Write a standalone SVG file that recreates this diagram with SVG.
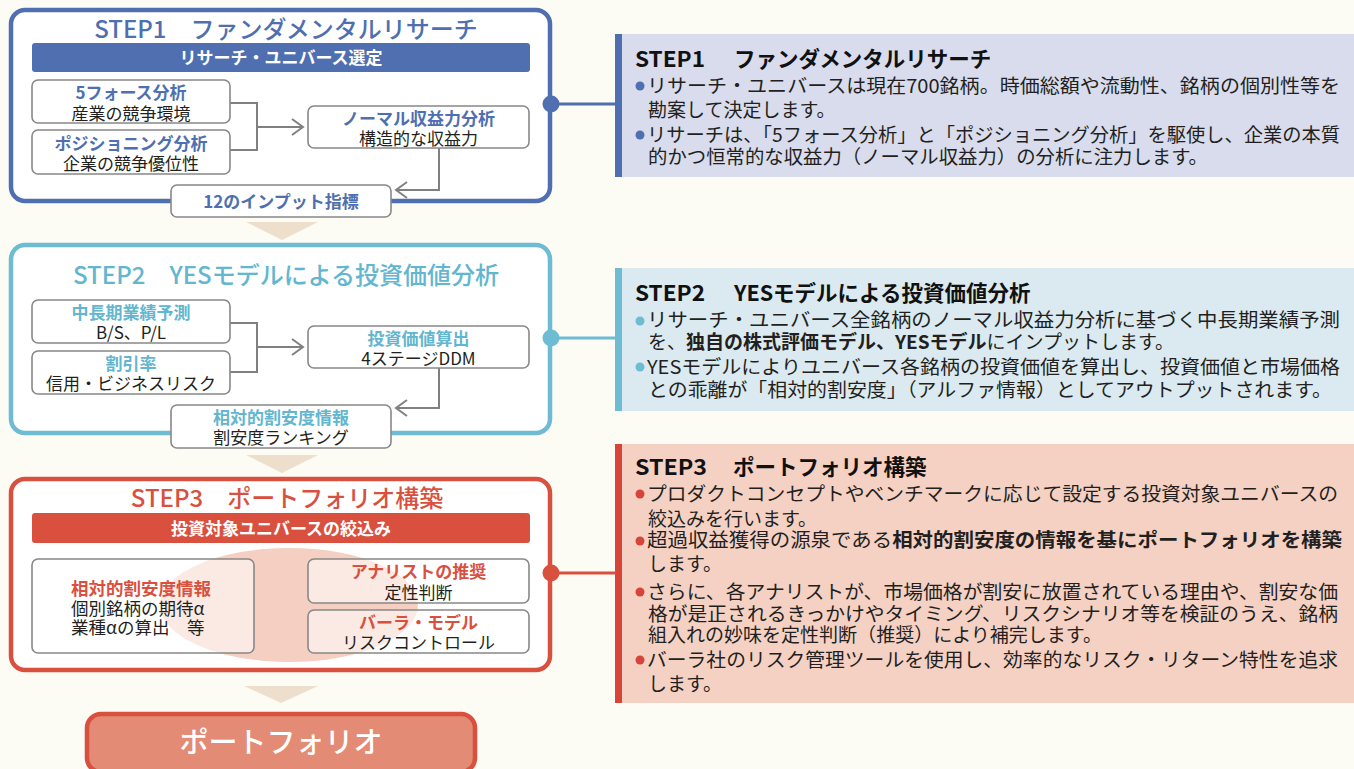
<svg xmlns="http://www.w3.org/2000/svg" width="1354" height="769" viewBox="0 0 1354 769">
<defs>
<style>
text{font-family:"Noto Sans CJK JP","Noto Sans",sans-serif;}
.stepbox{fill:#fff;stroke-width:4.5}
.s1{stroke:#4f6fb0}.s2{stroke:#6dbcd3}.s3{stroke:#d9503f}
.ttl{font-size:24px;font-weight:500;text-anchor:middle}
.c1{fill:#4f6fb0}.c2{fill:#62b6cf}.c3{fill:#d9503f}
.bt{font-size:17px;font-weight:700;fill:#fff;text-anchor:middle}
.ib{fill:#fff;stroke:#888;stroke-width:1.6}
.ibt{fill:#fff;fill-opacity:0.55;stroke:#888;stroke-width:1.6}
.nt{font-size:17px;text-anchor:middle}
.ntl{font-size:17.5px}
.h{font-weight:700}
.b{fill:#231f20}
.conn{fill:none;stroke:#808080;stroke-width:2}
.tri{fill:#eedfcc}
.pt{font-weight:700;fill:#111;font-size:21.5px}
.pb{font-size:19px;fill:#231f20}
.bold{font-weight:700}
</style>
<marker id="chev" markerUnits="userSpaceOnUse" markerWidth="16" markerHeight="20" refX="12" refY="9" orient="auto" viewBox="0 0 16 20"><path d="M1,1 L12,9 L1,17" fill="none" stroke="#808080" stroke-width="2"/></marker>
</defs>
<rect x="0" y="0" width="1354" height="769" fill="#fcfbf4"/>

<!-- right panels -->
<g id="panel1">
<rect x="615" y="34" width="739" height="143" fill="#d8dcec"/>
<rect x="615" y="34" width="7" height="143" fill="#4f6fb0"/>
<circle cx="640" cy="86" r="4.5" fill="#4f6fb0"/>
<circle cx="640" cy="135" r="4.5" fill="#4f6fb0"/>
<text class="pb"><tspan class="pt" x="635" y="66.5" textLength="70" lengthAdjust="spacingAndGlyphs">STEP1</tspan><tspan class="pt" x="734" y="66.5">ファンダメンタルリサーチ</tspan><tspan x="647" y="92.5" textLength="693" lengthAdjust="spacingAndGlyphs">リサーチ・ユニバースは現在700銘柄。時価総額や流動性、銘柄の個別性等を</tspan><tspan x="648" y="116.5">勘案して決定します。</tspan><tspan x="647" y="141.5" textLength="693" lengthAdjust="spacingAndGlyphs">リサーチは、「5フォース分析」と「ポジショニング分析」を駆使し、企業の本質</tspan><tspan x="648" y="164" textLength="560" lengthAdjust="spacingAndGlyphs">的かつ恒常的な収益力（ノーマル収益力）の分析に注力します。</tspan></text>
</g>

<g id="panel2">
<rect x="615" y="268" width="739" height="143" fill="#dbeaf0"/>
<rect x="615" y="268" width="7" height="143" fill="#6dbcd3"/>
<circle cx="640" cy="321" r="4.5" fill="#6dbcd3"/>
<circle cx="640" cy="367" r="4.5" fill="#6dbcd3"/>
<text class="pb"><tspan class="pt" x="635" y="301" textLength="70" lengthAdjust="spacingAndGlyphs">STEP2</tspan><tspan class="pt" x="734" y="301">YESモデルによる投資価値分析</tspan><tspan x="647" y="327" textLength="693" lengthAdjust="spacingAndGlyphs">リサーチ・ユニバース全銘柄のノーマル収益力分析に基づく中長期業績予測</tspan><tspan x="648" y="349">を、<tspan class="bold">独自の株式評価モデル、YESモデル</tspan>にインプットします。</tspan><tspan x="647" y="374" textLength="693" lengthAdjust="spacingAndGlyphs">YESモデルによりユニバース各銘柄の投資価値を算出し、投資価値と市場価格</tspan><tspan x="648" y="396.5" textLength="684" lengthAdjust="spacingAndGlyphs">との乖離が「相対的割安度」（アルファ情報）としてアウトプットされます。</tspan></text>
</g>

<g id="panel3">
<rect x="615" y="444" width="739" height="259" fill="#f5d1c4"/>
<rect x="615" y="444" width="7" height="259" fill="#d6443a"/>
<circle cx="640" cy="494" r="4.5" fill="#d6443a"/>
<circle cx="640" cy="541" r="4.5" fill="#d6443a"/>
<circle cx="640" cy="592" r="4.5" fill="#d6443a"/>
<circle cx="640" cy="660" r="4.5" fill="#d6443a"/>
<text class="pb"><tspan class="pt" x="635" y="475" textLength="72" lengthAdjust="spacingAndGlyphs">STEP3</tspan><tspan class="pt" x="733" y="475">ポートフォリオ構築</tspan><tspan x="647" y="500.5" textLength="691" lengthAdjust="spacingAndGlyphs">プロダクトコンセプトやベンチマークに応じて設定する投資対象ユニバースの</tspan><tspan x="648" y="525.5">絞込みを行います。</tspan><tspan x="647" y="547" textLength="695" lengthAdjust="spacingAndGlyphs">超過収益獲得の源泉である<tspan class="bold">相対的割安度の情報を基にポートフォリオを構築</tspan></tspan><tspan x="648" y="570.5">します。</tspan><tspan x="647" y="599" textLength="691" lengthAdjust="spacingAndGlyphs">さらに、各アナリストが、市場価格が割安に放置されている理由や、割安な価</tspan><tspan x="648" y="620.5" textLength="690" lengthAdjust="spacingAndGlyphs">格が是正されるきっかけやタイミング、リスクシナリオ等を検証のうえ、銘柄</tspan><tspan x="648" y="642" textLength="454" lengthAdjust="spacingAndGlyphs">組入れの妙味を定性判断（推奨）により補完します。</tspan><tspan x="647" y="667" textLength="691" lengthAdjust="spacingAndGlyphs">バーラ社のリスク管理ツールを使用し、効率的なリスク・リターン特性を追求</tspan><tspan x="648" y="690.5">します。</tspan></text>
</g>

<!-- STEP frames -->
<g id="step1">
<rect class="stepbox s1" x="11" y="10" width="539" height="191" rx="14"/>
<text class="ttl c1" x="286" y="37.5">STEP1　ファンダメンタルリサーチ</text>
<rect x="32" y="43" width="498" height="29" rx="3" fill="#4f6fb0"/>
<text class="bt" x="281" y="64">リサーチ・ユニバース選定</text>
</g>
<g id="step2">
<rect class="stepbox s2" x="11" y="245" width="539" height="188" rx="14"/>
<text class="ttl c2" x="286" y="284">STEP2　YESモデルによる投資価値分析</text>
</g>
<g id="step3">
<rect class="stepbox s3" x="11" y="479" width="539" height="191" rx="14"/>
<text class="ttl c3" x="287" y="507">STEP3　ポートフォリオ構築</text>
<rect x="32" y="513" width="498" height="30" rx="3" fill="#d9503f"/>
<text class="bt" x="281" y="534.5">投資対象ユニバースの絞込み</text>
<ellipse cx="289" cy="605" rx="129" ry="57" fill="#f5d0c2"/>
</g>

<!-- connectors -->
<g id="connectors">
<path class="conn" d="M230,103 H257 V150 H230"/>
<path class="conn" d="M257,127 H303" marker-end="url(#chev)"/>
<path class="conn" d="M439,148 V190 H396" marker-end="url(#chev)"/>
<path class="conn" d="M230,323 H257 V372 H230"/>
<path class="conn" d="M257,347 H303" marker-end="url(#chev)"/>
<path class="conn" d="M439,368 V408 H396" marker-end="url(#chev)"/>
<path d="M551,104 H616" stroke="#4f6fb0" stroke-width="3"/>
<path d="M551,338 H616" stroke="#6dbcd3" stroke-width="3"/>
<path d="M551,573 H616" stroke="#d9503f" stroke-width="3"/>
<circle cx="551" cy="104" r="8.5" fill="#4f6fb0"/>
<circle cx="551" cy="338" r="8.5" fill="#6dbcd3"/>
<circle cx="551" cy="573" r="8.5" fill="#d9503f"/>
<polygon class="tri" points="246,222 318,222 282,240"/>
<polygon class="tri" points="246,455 318,455 282,473"/>
<polygon class="tri" points="244,686 318,686 281,703"/>
</g>

<!-- STEP1 nodes -->
<g id="n-5force">
<rect class="ib" x="32" y="80" width="198" height="43" rx="6"/>
<text class="nt"><tspan class="h c1" x="131" y="98.5">5フォース分析</tspan><tspan class="b" x="131" y="119.5">産業の競争環境</tspan></text>
</g>
<g id="n-positioning">
<rect class="ib" x="32" y="130" width="198" height="44" rx="6"/>
<text class="nt"><tspan class="h c1" x="131" y="149.5">ポジショニング分析</tspan><tspan class="b" x="131" y="169.5">企業の競争優位性</tspan></text>
</g>
<g id="n-normal">
<rect class="ib" x="308" y="106" width="221" height="42" rx="6"/>
<text class="nt"><tspan class="h c1" x="418.5" y="124.5">ノーマル収益力分析</tspan><tspan class="b" x="418.5" y="144.5">構造的な収益力</tspan></text>
</g>
<g id="n-input12">
<rect class="ib" x="171" y="185" width="220" height="32" rx="6"/>
<text class="nt h c1" x="281" y="207.5">12のインプット指標</text>
</g>

<!-- STEP2 nodes -->
<g id="n-forecast">
<rect class="ib" x="32" y="300" width="198" height="43" rx="6"/>
<text class="nt"><tspan class="h c2" x="131" y="318.5">中長期業績予測</tspan><tspan class="b" x="131" y="338.5">B/S、P/L</tspan></text>
</g>
<g id="n-discount">
<rect class="ib" x="32" y="351" width="198" height="43" rx="6"/>
<text class="nt"><tspan class="h c2" x="131" y="369.5">割引率</tspan><tspan class="b" x="131" y="389.5">信用・ビジネスリスク</tspan></text>
</g>
<g id="n-value">
<rect class="ib" x="308" y="326" width="221" height="42" rx="6"/>
<text class="nt"><tspan class="h c2" x="418.5" y="344.5">投資価値算出</tspan><tspan class="b" x="418.5" y="364.5">4ステージDDM</tspan></text>
</g>
<g id="n-relative">
<rect class="ib" x="171" y="405" width="220" height="43" rx="6"/>
<text class="nt"><tspan class="h c2" x="281" y="423.5">相対的割安度情報</tspan><tspan class="b" x="281" y="443.5">割安度ランキング</tspan></text>
</g>

<!-- STEP3 nodes -->
<g id="n-alpha">
<rect class="ibt" x="32" y="559" width="222" height="94" rx="6"/>
<text class="ntl"><tspan class="h c3" x="71" y="594.5">相対的割安度情報</tspan><tspan class="b" x="71" y="614.5">個別銘柄の期待α</tspan><tspan class="b" x="71" y="634">業種αの算出　等</tspan></text>
</g>
<g id="n-analyst">
<rect class="ibt" x="308" y="559" width="221" height="44" rx="6"/>
<text class="nt"><tspan class="h c3" x="418.5" y="577.5">アナリストの推奨</tspan><tspan class="b" x="418.5" y="598.5">定性判断</tspan></text>
</g>
<g id="n-barra">
<rect class="ibt" x="308" y="610" width="221" height="43" rx="6"/>
<text class="nt"><tspan class="h c3" x="418.5" y="628.5">バーラ・モデル</tspan><tspan class="b" x="418.5" y="648.5">リスクコントロール</tspan></text>
</g>

<g id="n-portfolio">
<rect x="87" y="714" width="388" height="58" rx="14" fill="#e38b74" stroke="#d9503f" stroke-width="4.5"/>
<text x="281" y="753" font-size="29" font-weight="500" fill="#fff" text-anchor="middle">ポートフォリオ</text>
</g>
</svg>
